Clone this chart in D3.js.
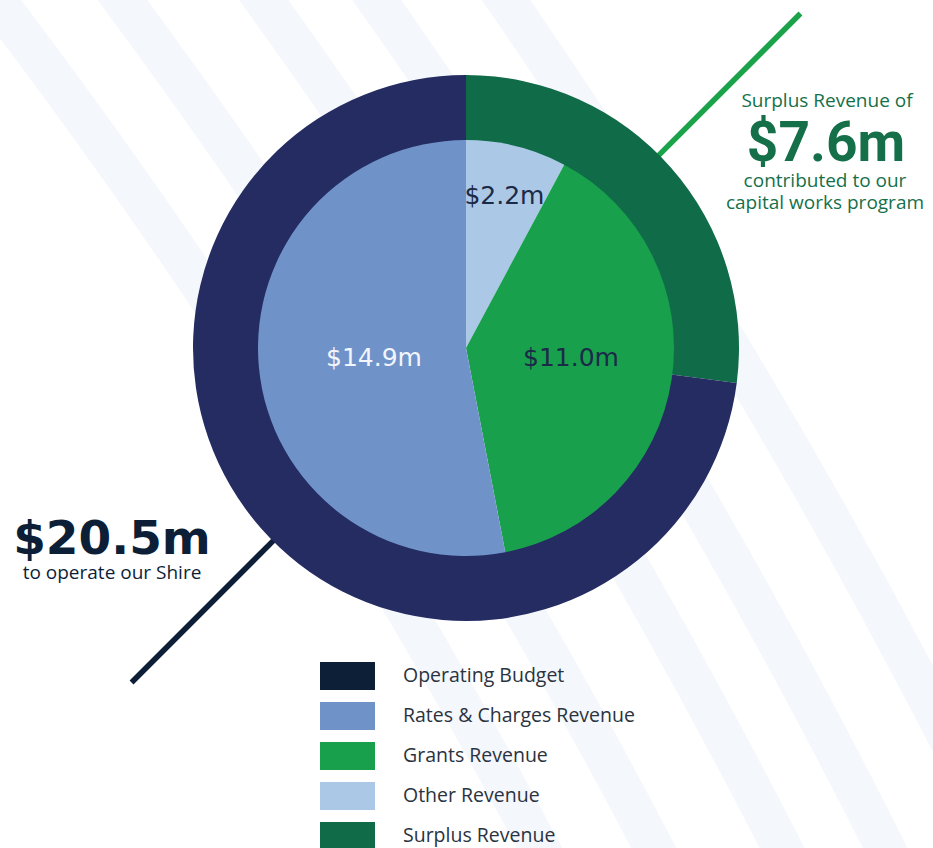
<!DOCTYPE html>
<html>
<head>
<meta charset="utf-8">
<script src="https://cdn.jsdelivr.net/npm/d3@7"></script>
<style>
  body { margin: 0; background: #fff; }
  svg { display: block; }
</style>
</head>
<body>
<div id="chart"></div>
<script>
// data ($ millions)
const categories = ["Operating Budget", "Rates & Charges Revenue", "Grants Revenue", "Other Revenue", "Surplus Revenue"];
const ringNames = ["Surplus Revenue", "Operating Budget"];
const ringValues = [7.6, 20.5];
const pieNames = ["Other Revenue", "Grants Revenue", "Rates & Charges Revenue"];
const pieValues = [2.2, 11.0, 14.9];
const surplusText = ["Surplus Revenue of", "contributed to our", "capital works program"];
const operatingText = ["to operate our Shire"];

const width = 933, height = 848;
const cx = 466, cy = 348, outerR = 273, innerR = 208;

const color = d3.scaleOrdinal()
  .domain(categories)
  .range(["#242c62", "#6f93c9", "#19a04d", "#abc8e6", "#106b48"]);
// legend swatch for the operating budget is darker than the ring itself
const swatchColor = (d) => d === "Operating Budget" ? "#0c1f37" : color(d);
const money = (v) => "$" + v.toFixed(1) + "m";

const svg = d3.select("#chart")
  .append("svg")
  .attr("width", width)
  .attr("height", height);

svg.append("rect").attr("width", width).attr("height", height).attr("fill", "#fff");

// faint curved background bands (big concentric arcs)
svg.append("g")
  .selectAll("circle")
  .data([6277, 6378, 6492, 6584, 6690])
  .join("circle")
  .attr("cx", -5000)
  .attr("cy", 3800)
  .attr("r", (d) => d)
  .attr("fill", "none")
  .attr("stroke", "#f4f7fb")
  .attr("stroke-width", 40);

const g = svg.append("g").attr("transform", `translate(${cx},${cy})`);
const pie = d3.pie().sort(null).value((d) => d[1]);

// leader lines first so the ring sits on top of their start
const leaders = [
  { angle: Math.PI / 4, stroke: "#1aa34a" },
  { angle: Math.PI * 5 / 4, stroke: "#0c1f37" }
];
g.selectAll("line.leader")
  .data(leaders)
  .join("line")
  .attr("class", "leader")
  .attr("x1", (d) => d3.pointRadial(d.angle, outerR - 2)[0])
  .attr("y1", (d) => d3.pointRadial(d.angle, outerR - 2)[1])
  .attr("x2", (d) => d3.pointRadial(d.angle, outerR + 200)[0])
  .attr("y2", (d) => d3.pointRadial(d.angle, outerR + 200)[1])
  .attr("stroke", (d) => d.stroke)
  .attr("stroke-width", 5.5);

// outer ring: operating budget vs surplus
const ringArc = d3.arc().innerRadius(innerR - 1).outerRadius(outerR);
g.append("g")
  .selectAll("path")
  .data(pie(d3.zip(ringNames, ringValues)))
  .join("path")
  .attr("d", ringArc)
  .attr("fill", (d) => color(d.data[0]));

// inner pie: revenue sources
const pieArc = d3.arc().innerRadius(0).outerRadius(innerR);
const inner = pie(d3.zip(pieNames, pieValues));
g.append("g")
  .selectAll("path")
  .data(inner)
  .join("path")
  .attr("d", pieArc)
  .attr("fill", (d) => color(d.data[0]));

// slice labels, small slices pushed further out, big ones sit on the centre line
g.append("g")
  .selectAll("text")
  .data(inner)
  .join("text")
  .attr("transform", (d) => {
    const small = d.endAngle - d.startAngle < 0.6;
    const a = small ? (d.startAngle + d.endAngle) / 2 : (d.startAngle + d.endAngle) / 2 > Math.PI ? Math.PI * 1.5 : Math.PI / 2;
    const p = d3.pointRadial(a, small ? 158 : (a > Math.PI ? 92 : 105));
    return `translate(${p[0]},${p[1] + (small ? 0 : 9)})`;
  })
  .attr("text-anchor", "middle")
  .attr("dy", "0.36em")
  .style("font-family", "'DejaVu Sans', sans-serif")
  .style("font-size", "25px")
  .attr("fill", (d) => d.data[0] === "Rates & Charges Revenue" ? "#f2f5fb" : "#1b2a47")
  .text((d) => money(d.data[1]));

// surplus callout
const surplus = svg.append("g").attr("fill", "#15704a").attr("text-anchor", "middle");
surplus.append("text")
  .attr("x", 827).attr("y", 107)
  .style("font-family", "'Open Sans', sans-serif").style("font-size", "19px")
  .text(surplusText[0]);
surplus.append("text")
  .attr("x", 826).attr("y", 161)
  .style("font-family", "Roboto, sans-serif").style("font-size", "55px").style("font-weight", "bold")
  .text(money(ringValues[0]));
surplus.selectAll("text.sub")
  .data(surplusText.slice(1))
  .join("text")
  .attr("class", "sub")
  .attr("x", 825)
  .attr("y", (d, i) => 187 + i * 22)
  .style("font-family", "'Open Sans', sans-serif").style("font-size", "19px")
  .text((d) => d);

// operating callout
const operating = svg.append("g").attr("fill", "#0c1f37").attr("text-anchor", "middle");
operating.append("text")
  .attr("x", 112).attr("y", 554)
  .style("font-family", "'DejaVu Sans', sans-serif").style("font-size", "47px").style("font-weight", "bold")
  .text(money(ringValues[1]));
operating.append("text")
  .attr("x", 112).attr("y", 579)
  .style("font-family", "'Open Sans', sans-serif").style("font-size", "19px")
  .text(operatingText[0]);

// legend
const legend = svg.append("g")
  .selectAll("g")
  .data(categories)
  .join("g")
  .attr("transform", (d, i) => `translate(320,${662 + i * 40})`);
legend.append("rect")
  .attr("width", 55)
  .attr("height", 28)
  .attr("fill", swatchColor);
legend.append("text")
  .attr("x", 83)
  .attr("y", 20)
  .attr("fill", "#2b3340")
  .style("font-family", "'Open Sans', sans-serif")
  .style("font-size", "19.5px")
  .text((d) => d);
</script>
</body>
</html>
